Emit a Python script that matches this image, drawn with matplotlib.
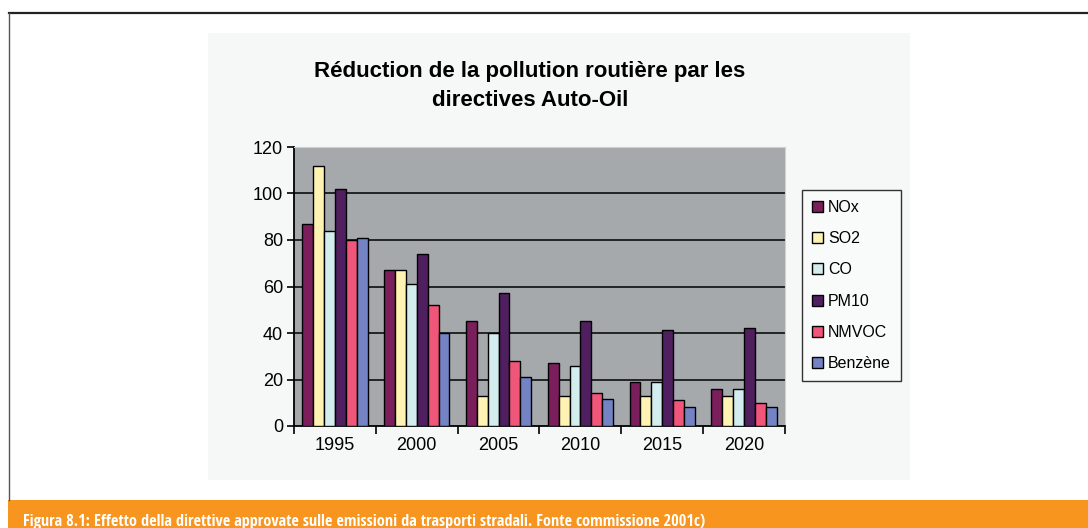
import matplotlib
matplotlib.use('Agg')
import matplotlib.pyplot as plt
import numpy as np
from matplotlib.patches import Rectangle
from matplotlib import font_manager

# Data
years = ['1995', '2000', '2005', '2010', '2015', '2020']
series = ['NOx', 'SO2', 'CO', 'PM10', 'NMVOC', 'Benzène']
nox = [87, 67, 45, 27, 19, 16]
so2 = [112, 67, 13, 13, 13, 13]
co = [84, 61, 40, 26, 19, 16]
pm10 = [102, 74, 57, 45, 41.5, 42]
nmvoc = [80, 52, 28, 14, 11, 10]
benzene = [81, 40, 21, 11.5, 8, 8]
y_ticks = [0, 20, 40, 60, 80, 100, 120]

title = 'Réduction de la pollution routière par les\ndirectives Auto-Oil'
caption = ('Figura 8.1: Effetto della direttive approvate sulle emissioni '
           'da trasporti stradali. Fonte commissione 2001c)')

colours = ['#7a1f5c', '#fff3b3', '#d3ecee', '#4f1f5f', '#f0557a', '#7383c4']

plt.rcParams['font.family'] = ['Liberation Sans', 'DejaVu Sans']

# pick a narrow face for the caption if one is around
names = {f.name for f in font_manager.fontManager.ttflist}
cap_family = 'Liberation Sans'
for cand in ['Liberation Sans Narrow', 'DejaVu Sans Condensed', 'Open Sans Condensed',
             'Roboto Condensed', 'Noto Sans Condensed']:
    if cand in names:
        cap_family = cand
        break

W, H = 1088, 528
fig = plt.figure(figsize=(W / 100, H / 100), dpi=100)
fig.patch.set_facecolor('white')


def fx(px):
    return px / W


def fy(py):
    return 1 - py / H


# page frame and light panel behind the chart
fig.add_artist(plt.Line2D([fx(9), 1], [fy(13), fy(13)], color='#222222', lw=1.6))
fig.add_artist(plt.Line2D([fx(9), fx(9)], [fy(13), fy(500)], color='#555555', lw=1.0))
fig.add_artist(Rectangle((fx(208), fy(480)), fx(910 - 208), (480 - 33) / H,
                         transform=fig.transFigure, facecolor='#f6f8f8',
                         edgecolor='none', zorder=-5))

# orange caption band
fig.add_artist(Rectangle((fx(8), 0), 1 - fx(8), (528 - 500) / H,
                         transform=fig.transFigure, facecolor='#f7951f',
                         edgecolor='none'))
cap = fig.text(fx(23), fy(526), caption, color='white', fontsize=15,
               fontweight='bold', fontstretch='condensed', ha='left',
               va='baseline', family=[cap_family, 'DejaVu Sans'])

# chart
ax = fig.add_axes([fx(294), fy(426), fx(785 - 294), (426 - 147) / H])
ax.set_facecolor('#a6a9ac')

x = np.arange(len(years))
values = [nox, so2, co, pm10, nmvoc, benzene]
bw = 0.133
for i, (name, vals) in enumerate(zip(series, values)):
    ax.bar(x + (i - 2.5) * bw, vals, width=bw, color=colours[i],
           edgecolor='black', linewidth=1.0, label=name, zorder=3)

for t in y_ticks[1:-1]:
    ax.axhline(t, color='black', lw=1.1, zorder=1)

ax.set_xlim(-0.5, len(years) - 0.5)
ax.set_ylim(0, 120)
ax.set_yticks(y_ticks)
ax.set_xticks(x)
ax.set_xticklabels(years)
ax.set_xticks(np.arange(-0.5, len(years)), minor=True)
ax.tick_params(axis='x', which='major', length=0, pad=8, labelsize=13)
ax.tick_params(axis='x', which='minor', length=6, width=1.2, direction='out')
ax.tick_params(axis='y', length=5, width=1.2, direction='out', labelsize=13, pad=3)

for side in ['left', 'bottom']:
    ax.spines[side].set_color('black')
    ax.spines[side].set_linewidth(1.3)
for side in ['top', 'right']:
    ax.spines[side].set_color('#d0d0d0')
    ax.spines[side].set_linewidth(0.8)

fig.text(fx(530), fy(86), title, ha='center', va='center', fontsize=16,
         fontweight='bold', linespacing=1.45)

leg = fig.legend(loc='upper left', bbox_to_anchor=(fx(802), fy(190)),
                 fontsize=11.5, frameon=True, fancybox=False,
                 handlelength=0.7, handleheight=0.7, handletextpad=0.3,
                 labelspacing=1.02, borderpad=0.62, borderaxespad=0)
leg.get_frame().set_edgecolor('black')
leg.get_frame().set_linewidth(1.0)
leg.get_frame().set_facecolor('#fbfbfb')

# fit caption to the measured width, but keep it no taller than the band allows
fig.canvas.draw()
bb = cap.get_window_extent()
cap.set_fontsize(min(15.5, 15 * (705 - 23) / bb.width))

fig.savefig('out.png', dpi=100)
